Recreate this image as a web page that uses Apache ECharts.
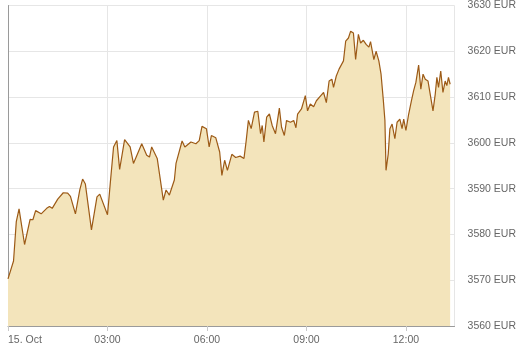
<!DOCTYPE html>
<html>
<head>
<meta charset="utf-8">
<script src="https://cdn.jsdelivr.net/npm/echarts@6/dist/echarts.min.js"></script>
<style>
html,body{margin:0;padding:0;background:#fff;}
#c{width:519px;height:346px;}
</style>
</head>
<body>
<div id="c"></div>
<script>
// time of day (15 Oct) and price in EUR
const times = ["00:00","00:10","00:15","00:20","00:30","00:40","00:45","00:50","01:00","01:10","01:15","01:20","01:30","01:40","01:48","01:53","02:02","02:10","02:15","02:20","02:31","02:41","02:46","03:00","03:05","03:11","03:17","03:22","03:31","03:41","03:47","04:02","04:11","04:16","04:20","04:30","04:41","04:46","04:52","05:01","05:04","05:15","05:20","05:31","05:40","05:46","05:51","05:59","06:04","06:08","06:16","06:23","06:27","06:32","06:37","06:45","06:52","07:00","07:07","07:11","07:15","07:20","07:26","07:32","07:37","07:40","07:43","07:48","07:53","07:58","08:04","08:11","08:15","08:20","08:24","08:31","08:37","08:41","08:44","08:51","08:58","09:02","09:07","09:13","09:18","09:26","09:31","09:36","09:41","09:46","09:49","09:54","09:59","10:02","10:07","10:11","10:16","10:20","10:25","10:29","10:34","10:38","10:43","10:48","10:53","10:56","11:02","11:06","11:11","11:15","11:19","11:22","11:24","11:28","11:31","11:35","11:40","11:44","11:49","11:53","11:56","12:00","12:05","12:10","12:14","12:18","12:23","12:27","12:31","12:35","12:40","12:44","12:49","12:53","12:56","12:59","13:03","13:07","13:11","13:14","13:17","13:20"];
const prices = [3570.3,3574.2,3582.8,3585.6,3577.8,3583.3,3583.2,3585.2,3584.5,3585.7,3586.1,3585.7,3587.7,3589.1,3589.0,3588.3,3584.5,3589.8,3592.1,3591.0,3581.0,3588.2,3588.8,3584.3,3591.1,3599.1,3600.5,3594.2,3600.7,3599.1,3595.5,3599.8,3597.3,3596.9,3599.1,3596.6,3587.5,3589.7,3588.6,3591.9,3595.5,3600.4,3599.1,3600.2,3599.8,3600.5,3603.6,3603.1,3599.1,3601.6,3601.1,3598.0,3592.9,3596.2,3594.0,3597.5,3596.8,3597.1,3596.6,3600.5,3604.9,3603.1,3606.7,3606.9,3602.0,3603.8,3600.2,3605.6,3606.3,3603.8,3602.0,3607.6,3603.4,3601.6,3604.9,3604.5,3604.9,3603.3,3606.3,3607.4,3610.3,3607.0,3608.5,3607.9,3609.2,3610.3,3611.0,3608.8,3613.5,3613.9,3612.1,3614.6,3616.1,3615.7,3617.9,3622.2,3622.9,3624.4,3624.0,3618.2,3623.7,3621.8,3622.4,3621.5,3620.9,3622.1,3618.2,3620.0,3617.9,3615.0,3609.5,3604.9,3594.0,3597.6,3603.1,3604.1,3600.9,3604.5,3605.2,3603.1,3605.2,3602.7,3606.3,3609.2,3611.4,3613.2,3617.0,3611.7,3615.0,3613.9,3613.5,3610.6,3607.0,3610.6,3614.3,3612.1,3615.7,3611.0,3613.5,3612.5,3614.3,3612.8];
const xTickLabels = {0:"15. Oct",180:"03:00",360:"06:00",540:"09:00",720:"12:00"};
const yMin = 3560, yMax = 3630, yStep = 10;

function toMin(t){const p=t.split(":");return (+p[0])*60+(+p[1]);}
const data = times.map((t,i)=>[toMin(t), prices[i]]);

const chart = echarts.init(document.getElementById('c'), null, {renderer:'canvas'});
const font = 'Liberation Sans, Arial, sans-serif';
chart.setOption({
  animation:false,
  backgroundColor:'#ffffff',
  grid:{left:8,right:62,top:4,bottom:19,containLabel:false},
  xAxis:{
    type:'value', min:0, max:808, interval:180,
    axisLine:{show:true,lineStyle:{color:'#9a9a9a',width:1}},
    axisTick:{show:true,length:5,lineStyle:{color:'#c8c8c8'}},
    splitLine:{show:true,lineStyle:{color:'#e6e6e6',width:1}},
    axisLabel:{
      color:'#666666', fontSize:10.5, fontFamily:font, margin:9,
      showMaxLabel:false, alignMinLabel:'left',
      formatter:v=>xTickLabels[v]!==undefined?xTickLabels[v]:''
    }
  },
  yAxis:{
    type:'value', position:'right', min:yMin, max:yMax, interval:yStep,
    axisLine:{show:true,lineStyle:{color:'#9a9a9a',width:1}},
    axisTick:{show:false},
    splitLine:{show:true,lineStyle:{color:'#e6e6e6',width:1}},
    axisLabel:{color:'#666666',fontSize:10.5,fontFamily:font,margin:13,formatter:v=>String(v)+' EUR'}
  },
  series:[{
    type:'line', data:data, showSymbol:false, symbol:'none',
    lineStyle:{color:'#9c5a16',width:1.2},
    areaStyle:{color:'#f3e4bb',opacity:1},
    z:1
  }]
});
</script>
</body>
</html>
